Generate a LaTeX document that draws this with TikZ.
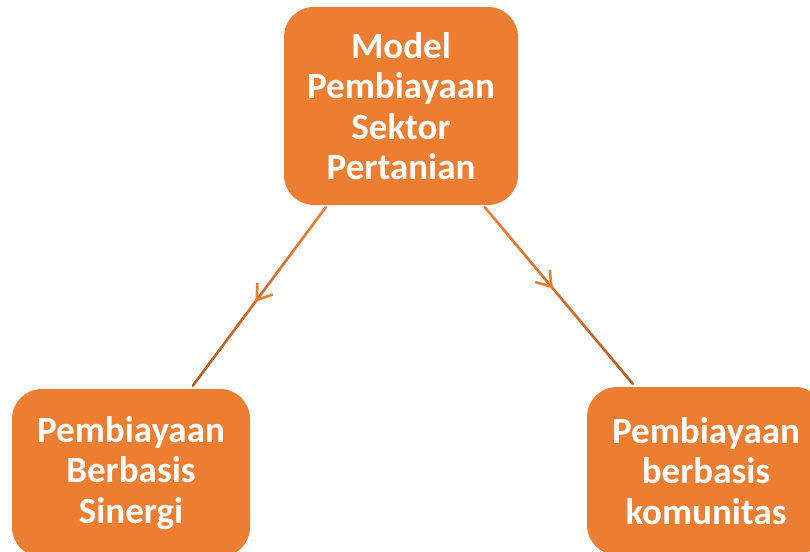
\documentclass[tikz,border=0pt]{standalone}
\usepackage{fontspec}
\setmainfont{Carlito}
\usetikzlibrary{arrows.meta,calc,decorations.markings}
\definecolor{boxorange}{HTML}{ED7D31}
\definecolor{linedark}{HTML}{B65A1E}
\begin{document}
\begin{tikzpicture}[x=1pt,y=-1pt,
  box/.style={fill=boxorange, rounded corners=30pt, text=white,
    font=\bfseries\fontsize{37}{40.5}\selectfont, align=center, inner sep=0pt},
  connector/.style={line width=2.6pt, line cap=round},
  midarrow/.style={decorate, decoration={markings, mark=at position #1 with
    {\arrow[color=boxorange, line width=2.6pt]{Straight Barb[length=14pt,width=19pt]}}}}
  ]
\useasboundingbox (0,0) rectangle (810,551);
\node[box, minimum width=234pt, minimum height=198pt] (top) at (401,106)
  {Model\\Pembiayaan\\Sektor\\Pertanian};
\node[box, minimum width=238pt, minimum height=168pt] (left) at (131,473)
  {Pembiayaan\\Berbasis\\Sinergi};
\node[box, minimum width=238pt, minimum height=168pt] (right) at (706,471)
  {Pembiayaan\\berbasis\\komunitas};
% connector end points
\coordinate (a1) at ($(top.south west)+(42,2)$);
\coordinate (b1) at ($(left.north west)+(181,-3)$);
\coordinate (a2) at ($(top.south west)+(201,2)$);
\coordinate (b2) at ($(right.north west)+(46,-3)$);
% gradient lines
\foreach \s/\e in {a1/b1, a2/b2}{
  \foreach \i in {0,...,19}{
    \pgfmathsetmacro{\mix}{100-\i*5}
    \draw[connector, color=boxorange!\mix!linedark]
      ($(\s)!\i/20!(\e)$) -- ($(\s)!{(\i+1)/20}!(\e)$);
  }
}
\path[line width=2.6pt, midarrow=0.53] (a1) -- (b1);
\path[line width=2.6pt, midarrow=0.46] (a2) -- (b2);
\end{tikzpicture}
\end{document}
